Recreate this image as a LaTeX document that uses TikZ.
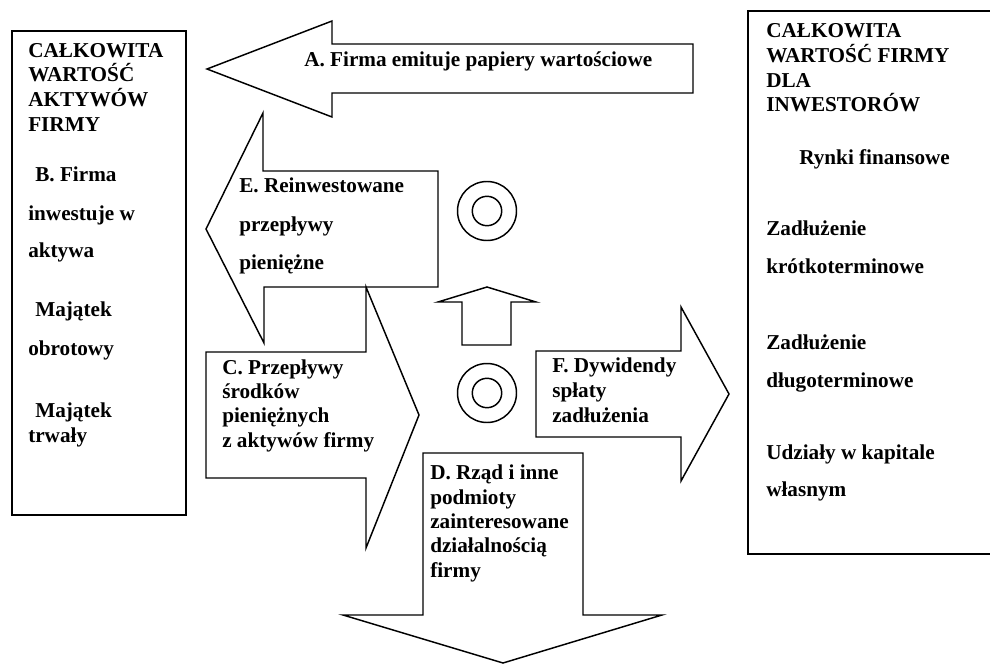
\documentclass[tikz,border=0pt]{standalone}
\usepackage{fontspec}
\setmainfont{Liberation Serif}

\tikzset{
  shp/.style={line width=1.1pt, line join=miter},
  lbl/.style={anchor=west, inner sep=0pt, text height=0.66em, text depth=0pt,
    font=\bfseries\fontsize{15.9}{18}\selectfont}
}

\begin{document}
\begin{tikzpicture}[x=0.75pt,y=-0.75pt]
    \useasboundingbox (0,0) rectangle (990,664);
    % \draw [help lines, step=50] (0,0) grid (990,664);

    % boxes left and right
    \draw [shp] (12,31) rectangle (186,515);
    \draw [shp] (990,11) -- (748,11) -- (748,554) -- (990,554);

    % A arrow (to the left)
    \draw [shp] (693,44) -- (332,44) -- (332,21) -- (207,69) -- (332,117) -- (332,93) -- (693,93) -- cycle;
    % E arrow
    \draw [shp] (438,171) -- (263,171) -- (263,113) -- (206,229) -- (264,343) -- (264,287) -- (438,287) -- cycle;
    % C arrow
    \draw [shp] (206,352) -- (366,352) -- (366,287) -- (419,415) -- (366,548) -- (366,478) -- (206,478) -- cycle;
    % D arrow (down)
    \draw [shp] (423,453) -- (583,453) -- (583,615) -- (662,615) -- (503,663) -- (343,615) -- (423,615) -- cycle;
    % F arrow
    \draw [shp] (536,351) -- (681,351) -- (681,307) -- (729,394) -- (681,481) -- (681,437) -- (536,437) -- cycle;
    % small up arrow
    \draw [shp] (462,345) -- (462,302) -- (438,302) -- (487,287) -- (536,302) -- (511,302) -- (511,345) -- cycle;

    % rings
    \foreach \cy in {211,393}{
      \draw [shp] (487,\cy) circle [radius=29.5];
      \draw [shp] (487,\cy) circle [radius=14.7];
    }

    % left box text
    \foreach \y/\t in {53/CAŁKOWITA, 77/WARTOŚĆ, 102/AKTYWÓW, 127/FIRMY,
                       216/inwestuje w, 253/aktywa, 351/obrotowy, 438/trwały}
      \node [lbl] (lb\y) at (28,\y) {\t};
    \foreach \y/\t in {177/B. Firma, 312/Majątek, 413/Majątek}
      \node [lbl] (lbi\y) at (35,\y) {\t};

    % right box text
    \foreach \y/\t in {33/CAŁKOWITA, 58/WARTOŚĆ FIRMY, 83/DLA, 107/INWESTORÓW,
                       231/Zadłużenie, 269/krótkoterminowe, 345/Zadłużenie,
                       383/długoterminowe, 455/Udziały w kapitale, 492/własnym}
      \node [lbl] (rb\y) at (766,\y) {\t};
    \node [lbl] (rynki) at (799,160) {Rynki finansowe};

    % arrow labels
    \node [lbl] (labA) at (304,62) {A. Firma emituje papiery wartościowe};
    \foreach \y/\t in {188/E. Reinwestowane, 227/przepływy, 265/pieniężne}
      \node [lbl] (labE\y) at (239,\y) {\t};
    \foreach \y/\t in {370/C. Przepływy, 394/środków, 418/pieniężnych, 443/z aktywów firmy}
      \node [lbl] (labC\y) at (222,\y) {\t};
    \foreach \y/\t in {368/F. Dywidendy, 393/spłaty, 418/zadłużenia}
      \node [lbl] (labF\y) at (552,\y) {\t};
    \foreach \y/\t in {475/D. Rząd i inne, 500/podmioty, 524/zainteresowane, 548/działalnością, 573/firmy}
      \node [lbl] (labD\y) at (430,\y) {\t};
\end{tikzpicture}
\end{document}
